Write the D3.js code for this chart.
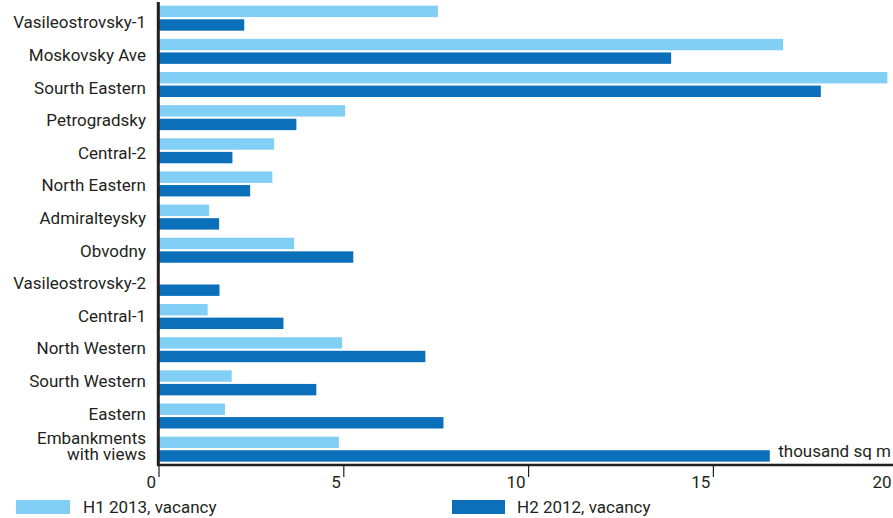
<!DOCTYPE html>
<html>
<head>
<meta charset="utf-8">
<script src="https://cdn.jsdelivr.net/npm/d3@7/dist/d3.min.js"></script>
<style>
  html, body { margin: 0; padding: 0; background: #ffffff; }
  svg { display: block; }
  text { font-family: Roboto, "Liberation Sans", Arial, sans-serif; fill: #231f20; }
</style>
</head>
<body>
<svg id="chart" width="893" height="518"></svg>
<script>
const categories = [
  ["Vasileostrovsky-1"],
  ["Moskovsky Ave"],
  ["Sourth Eastern"],
  ["Petrogradsky"],
  ["Central-2"],
  ["North Eastern"],
  ["Admiralteysky"],
  ["Obvodny"],
  ["Vasileostrovsky-2"],
  ["Central-1"],
  ["North Western"],
  ["Sourth Western"],
  ["Eastern"],
  ["Embankments", "with views"]
];
const h1_2013 = [7.56, 16.90, 19.72, 5.05, 3.13, 3.08, 1.37, 3.67, 0, 1.33, 4.97, 1.98, 1.80, 4.88];
const h2_2012 = [2.32, 13.87, 17.92, 3.73, 2.00, 2.48, 1.64, 5.27, 1.65, 3.38, 7.22, 4.27, 7.71, 16.54];
const seriesNames = ["H1 2013, vacancy", "H2 2012, vacancy"];
const seriesColors = ["#82cff5", "#0b6fba"];
const xTicks = [0, 5, 10, 15, 20];
const unitLabel = "thousand sq m";

const svg = d3.select("#chart");
const keys = categories.map(c => c.join(" "));

const x = d3.scaleLinear().domain([0, 20]).range([158.5, 897.7]);
const y = d3.scaleBand().domain(keys).range([4, 4 + 14 * 33.15]).paddingInner(0).paddingOuter(0);
const ySub = d3.scaleBand().domain([0, 1]).range([1.7, 26.7]).paddingInner(0.16);
const yLabel = d3.scalePoint().domain(keys).range([28.3, 28.3 + 13 * 32.6]);

const rows = keys.map((k, i) => ({ key: k, lines: categories[i], vals: [h1_2013[i], h2_2012[i]] }));

// Bars
const rowG = svg.append("g").selectAll("g").data(rows).join("g")
  .attr("transform", d => `translate(0,${y(d.key)})`);
rowG.selectAll("rect").data(d => d.vals.map((v, s) => ({ v, s })).filter(e => e.v > 0)).join("rect")
  .attr("x", x(0))
  .attr("y", e => ySub(e.s))
  .attr("width", e => x(e.v) - x(0))
  .attr("height", ySub.bandwidth())
  .attr("fill", e => seriesColors[e.s]);

// Category labels
const lab = svg.append("g").selectAll("text").data(rows).join("text")
  .attr("text-anchor", "end")
  .attr("font-size", 17)
  .attr("x", 146)
  .attr("y", d => yLabel(d.key));
lab.each(function(d) {
  const t = d3.select(this);
  const n = d.lines.length;
  d.lines.forEach((ln, j) => {
    t.append("tspan").attr("x", 146)
      .attr("y", yLabel(d.key) + (j - (n - 1) / 2) * 16.6)
      .text(ln);
  });
});

// X axis
const axisY = 465;
const ax = svg.append("g").attr("transform", `translate(0,${axisY})`)
  .call(d3.axisBottom(x).tickValues(xTicks).tickSize(12).tickFormat(d3.format("d")));
ax.select(".domain").remove();
ax.selectAll(".tick line").attr("stroke", "#231f20").attr("stroke-width", 1.2);
ax.selectAll(".tick text")
  .attr("fill", "#231f20")
  .attr("font-size", 17)
  .attr("font-family", "Roboto, 'Liberation Sans', Arial, sans-serif")
  .attr("text-anchor", "end")
  .attr("dy", null)
  .attr("y", 23)
  .attr("x", d => Math.min(-3, 891 - x(d)));

svg.append("line")
  .attr("x1", 157).attr("x2", 893)
  .attr("y1", axisY).attr("y2", axisY)
  .attr("stroke", "#231f20").attr("stroke-width", 2.6);

// Y axis line
svg.append("line")
  .attr("x1", 158.3).attr("x2", 158.3)
  .attr("y1", 2).attr("y2", axisY + 1)
  .attr("stroke", "#231f20").attr("stroke-width", 3);

// Unit label
svg.append("text")
  .attr("x", 891).attr("y", 457)
  .attr("text-anchor", "end")
  .attr("font-size", 17)
  .text(unitLabel);

// Legend
const legendPos = [{ rx: 16, rw: 54, tx: 83 }, { rx: 452, rw: 53, tx: 517 }];
const lg = svg.append("g").selectAll("g").data(seriesNames).join("g");
lg.append("rect")
  .attr("x", (d, i) => legendPos[i].rx).attr("y", 500)
  .attr("width", (d, i) => legendPos[i].rw).attr("height", 14)
  .attr("fill", (d, i) => seriesColors[i]);
lg.append("text")
  .attr("x", (d, i) => legendPos[i].tx).attr("y", 513)
  .attr("font-size", 17)
  .text(d => d);
</script>
</body>
</html>
